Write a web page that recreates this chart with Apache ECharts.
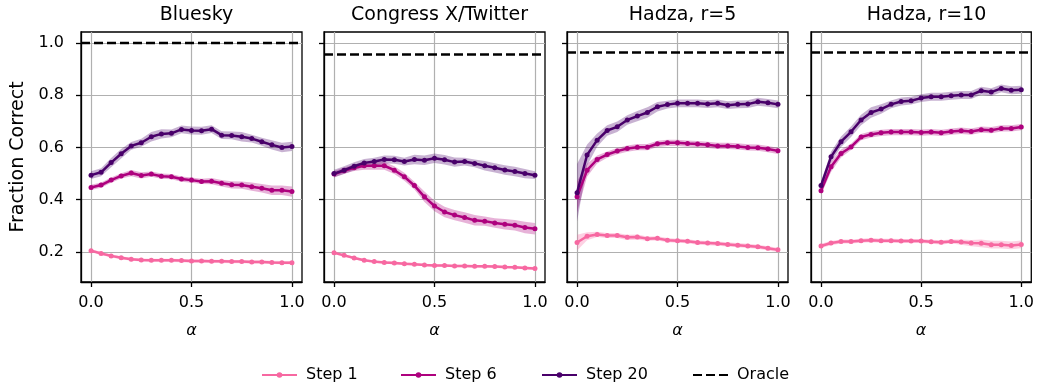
<!DOCTYPE html>
<html>
<head>
<meta charset="utf-8">
<script src="https://cdn.jsdelivr.net/npm/echarts@6/dist/echarts.min.js"></script>
<style>
  html, body { margin: 0; padding: 0; background: #ffffff; }
  #chart { width: 1037px; height: 389px; }
</style>
</head>
<body>
<div id="chart"></div>
<script>
// Mixing weight alpha (x-axis of every panel)
const alpha = [0, 0.05, 0.1, 0.15, 0.2, 0.25, 0.3, 0.35, 0.4, 0.45, 0.5,
               0.55, 0.6, 0.65, 0.7, 0.75, 0.8, 0.85, 0.9, 0.95, 1.0];

const panelTitles = ['Bluesky', 'Congress X/Twitter', 'Hadza, r=5', 'Hadza, r=10'];
const stepNames = ['Step 1', 'Step 6', 'Step 20'];
const oracleLevels = [1.0, 0.956, 0.964, 0.964];
const xTicks = [0, 0.5, 1.0];
const yTicks = [0.2, 0.4, 0.6, 0.8, 1.0];

// Bluesky
const blueskyStep1  = [0.205,0.194,0.185,0.178,0.172,0.169,0.168,0.168,0.168,0.167,0.165,0.165,0.164,0.164,0.163,0.163,0.162,0.162,0.160,0.159,0.159];
const blueskyStep6  = [0.447,0.456,0.475,0.491,0.502,0.493,0.498,0.490,0.488,0.479,0.475,0.470,0.471,0.463,0.457,0.456,0.450,0.444,0.436,0.436,0.431];
const blueskyStep20 = [0.494,0.505,0.542,0.576,0.606,0.618,0.641,0.652,0.654,0.669,0.665,0.664,0.670,0.647,0.646,0.641,0.634,0.622,0.610,0.600,0.604];
const blueskySpread1  = [0.006,0.006,0.006,0.006,0.006,0.006,0.006,0.006,0.006,0.006,0.006,0.006,0.006,0.006,0.006,0.006,0.006,0.006,0.006,0.006,0.006];
const blueskySpread6  = [0.010,0.010,0.010,0.010,0.012,0.012,0.010,0.010,0.010,0.010,0.010,0.010,0.012,0.012,0.014,0.014,0.016,0.016,0.018,0.018,0.020];
const blueskySpread20 = [0.015,0.015,0.018,0.018,0.015,0.015,0.018,0.018,0.015,0.015,0.015,0.015,0.015,0.015,0.015,0.018,0.015,0.015,0.018,0.018,0.018];

// Congress X/Twitter
const congressStep1  = [0.197,0.187,0.177,0.168,0.163,0.160,0.158,0.155,0.153,0.150,0.148,0.148,0.146,0.146,0.145,0.145,0.144,0.142,0.141,0.139,0.137];
const congressStep6  = [0.498,0.511,0.522,0.530,0.530,0.530,0.513,0.488,0.454,0.411,0.376,0.353,0.341,0.332,0.321,0.318,0.311,0.306,0.302,0.294,0.289];
const congressStep20 = [0.500,0.513,0.528,0.541,0.546,0.554,0.553,0.546,0.554,0.551,0.559,0.553,0.544,0.546,0.539,0.530,0.522,0.514,0.508,0.500,0.494];
const congressSpread1  = [0.005,0.005,0.005,0.005,0.005,0.005,0.005,0.005,0.005,0.005,0.005,0.005,0.005,0.005,0.005,0.005,0.005,0.005,0.005,0.005,0.005];
const congressSpread6  = [0.012,0.012,0.012,0.015,0.015,0.015,0.015,0.015,0.015,0.020,0.020,0.020,0.020,0.020,0.020,0.018,0.018,0.020,0.020,0.022,0.022];
const congressSpread20 = [0.015,0.015,0.015,0.015,0.015,0.015,0.015,0.015,0.018,0.018,0.018,0.018,0.018,0.015,0.015,0.018,0.018,0.018,0.018,0.018,0.015];

// Hadza, r=5
const hadza5Step1  = [0.236,0.260,0.267,0.263,0.263,0.256,0.257,0.251,0.252,0.245,0.243,0.241,0.236,0.234,0.232,0.229,0.226,0.223,0.220,0.214,0.208];
const hadza5Step6  = [0.411,0.513,0.554,0.573,0.586,0.596,0.601,0.601,0.614,0.618,0.618,0.615,0.613,0.610,0.606,0.606,0.604,0.600,0.599,0.594,0.587];
const hadza5Step20 = [0.427,0.571,0.628,0.665,0.679,0.705,0.720,0.734,0.756,0.764,0.769,0.769,0.769,0.766,0.769,0.762,0.765,0.766,0.775,0.771,0.765];
const hadza5Spread1  = [0.030,0.015,0.010,0.010,0.010,0.010,0.010,0.008,0.008,0.008,0.008,0.008,0.008,0.008,0.008,0.008,0.008,0.008,0.008,0.008,0.008];
const hadza5Spread6  = [0.060,0.025,0.015,0.012,0.012,0.012,0.012,0.012,0.012,0.012,0.012,0.012,0.012,0.012,0.012,0.012,0.012,0.012,0.012,0.012,0.012];
const hadza5Spread20 = [0.110,0.040,0.025,0.020,0.020,0.018,0.020,0.020,0.018,0.015,0.015,0.015,0.015,0.015,0.015,0.015,0.015,0.015,0.015,0.015,0.015];

// Hadza, r=10
const hadza10Step1  = [0.223,0.234,0.240,0.240,0.243,0.245,0.243,0.243,0.242,0.242,0.242,0.239,0.237,0.240,0.238,0.234,0.233,0.228,0.228,0.225,0.229];
const hadza10Step6  = [0.434,0.526,0.577,0.602,0.640,0.650,0.656,0.659,0.659,0.659,0.657,0.659,0.656,0.661,0.664,0.661,0.668,0.666,0.673,0.673,0.678];
const hadza10Step20 = [0.454,0.564,0.622,0.660,0.705,0.734,0.747,0.765,0.776,0.779,0.789,0.794,0.794,0.798,0.801,0.801,0.817,0.812,0.826,0.819,0.821];
const hadza10Spread1  = [0.008,0.008,0.008,0.008,0.008,0.008,0.008,0.008,0.008,0.008,0.008,0.008,0.008,0.008,0.010,0.012,0.015,0.015,0.015,0.015,0.015];
const hadza10Spread6  = [0.015,0.020,0.015,0.012,0.012,0.012,0.012,0.012,0.012,0.012,0.012,0.012,0.012,0.012,0.012,0.012,0.012,0.012,0.012,0.012,0.012];
const hadza10Spread20 = [0.015,0.020,0.020,0.020,0.020,0.020,0.018,0.015,0.015,0.015,0.015,0.015,0.015,0.015,0.015,0.015,0.015,0.015,0.015,0.015,0.015];

const panelMeans = [
  [blueskyStep1, blueskyStep6, blueskyStep20],
  [congressStep1, congressStep6, congressStep20],
  [hadza5Step1, hadza5Step6, hadza5Step20],
  [hadza10Step1, hadza10Step6, hadza10Step20]
];
const panelSpreads = [
  [blueskySpread1, blueskySpread6, blueskySpread20],
  [congressSpread1, congressSpread6, congressSpread20],
  [hadza5Spread1, hadza5Spread6, hadza5Spread20],
  [hadza10Spread1, hadza10Spread6, hadza10Spread20]
];

// Styling / layout
const stepColors = ['#f768a1', '#ae017e', '#49006a'];
const FONT = 'DejaVu Sans';
const gridLefts = [81, 324, 567, 811];
const gridWidth = 221;
const gridTop = 32;
const gridHeight = 250;
const xRange = [-0.05, 1.05];
const yRange = [0.085, 1.042];

function rgba(hex, a) {
  const n = parseInt(hex.slice(1), 16);
  return 'rgba(' + ((n >> 16) & 255) + ',' + ((n >> 8) & 255) + ',' + (n & 255) + ',' + a + ')';
}

// Shaded band between mean - spread and mean + spread, drawn as one polygon
function bandSeries(gi, mean, spread, color) {
  const lo = mean.map((m, k) => m - spread[k]);
  const hi = mean.map((m, k) => m + spread[k]);
  return {
    type: 'custom',
    xAxisIndex: gi, yAxisIndex: gi,
    silent: true, clip: false, z: 2,
    data: alpha.map((a, k) => [a, lo[k], hi[k]]),
    encode: { x: 0, y: [1, 2] },
    renderItem: function (params, api) {
      if (params.dataIndex !== 0) return null;
      const pts = [];
      for (let k = 0; k < alpha.length; k++) pts.push(api.coord([alpha[k], hi[k]]));
      for (let k = alpha.length - 1; k >= 0; k--) pts.push(api.coord([alpha[k], lo[k]]));
      return { type: 'polygon', shape: { points: pts }, style: { fill: rgba(color, 0.3) } };
    }
  };
}

const grids = [], xAxes = [], yAxes = [], series = [], titles = [];

panelTitles.forEach((title, gi) => {
  grids.push({
    left: gridLefts[gi], top: gridTop, width: gridWidth, height: gridHeight,
    show: true, borderColor: '#000', borderWidth: 1.3, backgroundColor: 'transparent'
  });
  titles.push({
    text: title,
    left: gridLefts[gi] + gridWidth / 2, top: 1, textAlign: 'center',
    textStyle: { fontFamily: FONT, fontSize: 19, fontWeight: 'normal', color: '#000' }
  });
  xAxes.push({
    type: 'value', gridIndex: gi, min: xRange[0], max: xRange[1],
    name: 'α', nameLocation: 'middle', nameGap: 41,
    nameTextStyle: { fontFamily: FONT, fontSize: 16, fontStyle: 'italic', color: '#000' },
    axisLine: { show: true, onZero: false, lineStyle: { color: '#000', width: 1.3 } },
    axisTick: { show: true, customValues: xTicks, length: 5, lineStyle: { color: '#000', width: 1.3 } },
    axisLabel: { customValues: xTicks, formatter: v => v.toFixed(1), fontFamily: FONT, fontSize: 16, color: '#000', margin: 13 },
    splitLine: { show: false }
  });
  yAxes.push({
    type: 'value', gridIndex: gi, min: yRange[0], max: yRange[1],
    name: gi === 0 ? 'Fraction Correct' : '', nameLocation: 'middle', nameGap: 53,
    nameTextStyle: { fontFamily: FONT, fontSize: 19, color: '#000' },
    axisLine: { show: true, onZero: false, lineStyle: { color: '#000', width: 1.3 } },
    axisTick: { show: true, customValues: yTicks, length: 5, lineStyle: { color: '#000', width: 1.3 } },
    axisLabel: { show: gi === 0, customValues: yTicks, formatter: v => v.toFixed(1), fontFamily: FONT, fontSize: 16, color: '#000', margin: 17 },
    splitLine: { show: false }
  });

  // light grey grid lines at the tick positions
  series.push({
    type: 'line', name: 'grid-' + gi, xAxisIndex: gi, yAxisIndex: gi, data: [],
    silent: true, z: 0,
    markLine: {
      silent: true, z: 0, symbol: ['none', 'none'], label: { show: false }, animation: false,
      lineStyle: { color: '#b0b0b0', width: 1.2, type: 'solid' },
      emphasis: { disabled: true },
      data: xTicks.map(v => ({ xAxis: v })).concat(yTicks.map(v => ({ yAxis: v })))
    }
  });

  // spread bands first, then the mean curves on top
  for (let s = 0; s < 3; s++) {
    series.push(bandSeries(gi, panelMeans[gi][s], panelSpreads[gi][s], stepColors[s]));
  }
  for (let s = 0; s < 3; s++) {
    series.push({
      type: 'line', name: stepNames[s], xAxisIndex: gi, yAxisIndex: gi,
      data: alpha.map((a, k) => [a, panelMeans[gi][s][k]]),
      symbol: 'circle', symbolSize: 5, showSymbol: true,
      lineStyle: { color: stepColors[s], width: 2.5 },
      itemStyle: { color: stepColors[s] },
      emphasis: { disabled: true },
      z: 3 + s
    });
  }
  series.push({
    type: 'line', name: 'Oracle', xAxisIndex: gi, yAxisIndex: gi,
    data: [[xRange[0], oracleLevels[gi]], [xRange[1], oracleLevels[gi]]],
    symbol: 'none', showSymbol: false,
    lineStyle: { color: '#000', width: 2.5, type: [9, 4] },
    itemStyle: { color: '#000' },
    emphasis: { disabled: true },
    z: 7
  });
});

const legendItems = [
  { name: 'Step 1' },
  { name: 'Step 6' },
  { name: 'Step 20' },
  { name: 'Oracle', itemStyle: { color: 'rgba(0,0,0,0)', borderWidth: 0 } }
];
const legendLefts = [256, 395, 536, 687];
const legends = legendItems.map((item, i) => ({
  data: [item], left: legendLefts[i], top: 362,
  itemWidth: 35, itemHeight: 7, selectedMode: false,
  textStyle: { fontFamily: FONT, fontSize: 16, color: '#000', padding: [0, 0, 0, 4] }
}));

const chart = echarts.init(document.getElementById('chart'), null, { renderer: 'canvas' });
chart.setOption({
  animation: false,
  backgroundColor: '#ffffff',
  title: titles,
  legend: legends,
  grid: grids,
  xAxis: xAxes,
  yAxis: yAxes,
  series: series
});
</script>
</body>
</html>
